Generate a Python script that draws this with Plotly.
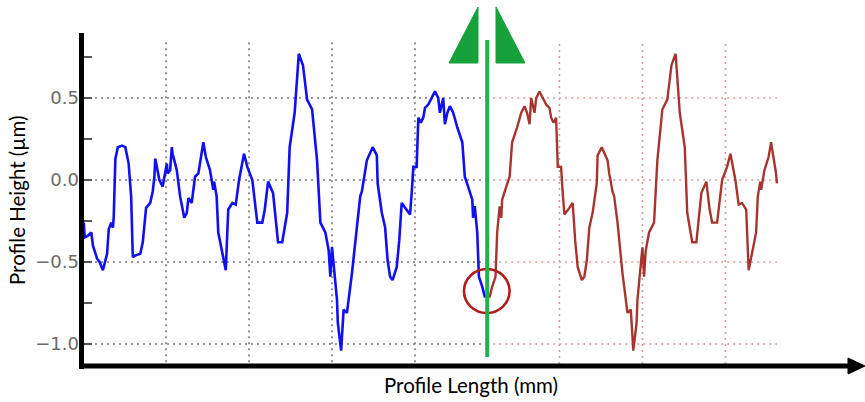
import plotly.graph_objects as go

# ---- data ----
blue_x = [0.01, 0.02, 0.06, 0.10, 0.12, 0.17, 0.20, 0.24, 0.29, 0.31, 0.34, 0.36, 0.37, 0.39, 0.42,
          0.47, 0.51, 0.55, 0.58, 0.60, 0.63, 0.69, 0.72, 0.76, 0.81, 0.84, 0.86, 0.87, 0.89, 0.92,
          0.96, 0.99, 1.01, 1.02, 1.05, 1.07, 1.08, 1.13, 1.17, 1.22, 1.25, 1.27, 1.31, 1.35, 1.39,
          1.45, 1.48, 1.53, 1.57, 1.58, 1.61, 1.63, 1.67, 1.72, 1.75, 1.80, 1.84, 1.88, 1.94, 1.98,
          2.04, 2.10, 2.16, 2.19, 2.23, 2.29, 2.35, 2.40, 2.46, 2.49, 2.55, 2.60, 2.65, 2.70, 2.76,
          2.82, 2.86, 2.92, 2.96, 2.98, 3.00, 3.02, 3.06, 3.07, 3.11, 3.14, 3.18, 3.24, 3.30, 3.34,
          3.36, 3.40, 3.42, 3.49, 3.54, 3.55, 3.60, 3.64, 3.67, 3.70, 3.73, 3.78, 3.81, 3.84, 3.88,
          3.94, 3.96, 3.98, 4.02, 4.04, 4.07, 4.10, 4.12, 4.16, 4.20, 4.24, 4.28, 4.30, 4.34, 4.36,
          4.39, 4.42, 4.46, 4.51, 4.57, 4.60, 4.64, 4.69, 4.70, 4.72, 4.75, 4.77, 4.81, 4.84, 4.87]
blue_y = [-0.26, -0.35, -0.34, -0.32, -0.40, -0.48, -0.50, -0.55, -0.45, -0.30, -0.26, -0.29, -0.23, 0.13, 0.20,
          0.21, 0.20, 0.10, -0.10, -0.47, -0.46, -0.45, -0.38, -0.17, -0.14, -0.07, 0.02, 0.13, 0.08, 0.00,
          -0.04, 0.04, 0.10, 0.04, 0.06, 0.20, 0.16, 0.06, -0.10, -0.23, -0.20, -0.11, -0.14, 0.02, 0.04,
          0.23, 0.14, 0.06, -0.06, -0.01, -0.10, -0.32, -0.43, -0.55, -0.18, -0.14, -0.15, 0.00, 0.16, 0.08,
          0.00, -0.26, -0.26, -0.18, -0.01, -0.08, -0.38, -0.38, -0.20, 0.20, 0.41, 0.77, 0.70, 0.49, 0.43,
          0.12, -0.26, -0.32, -0.43, -0.59, -0.41, -0.53, -0.73, -0.87, -1.04, -0.79, -0.81, -0.57, -0.26, -0.10,
          -0.07, 0.04, 0.12, 0.20, 0.15, -0.02, -0.20, -0.29, -0.49, -0.59, -0.61, -0.53, -0.37, -0.14, -0.17,
          -0.21, -0.08, 0.08, 0.08, 0.38, 0.35, 0.38, 0.44, 0.46, 0.50, 0.54, 0.50, 0.41, 0.50, 0.34,
          0.41, 0.45, 0.41, 0.32, 0.23, 0.02, -0.04, -0.12, -0.23, -0.16, -0.32, -0.59, -0.65, -0.71, -0.71]

brown_x = [4.87, 4.90, 4.93, 4.97, 4.99, 5.02, 5.04, 5.05, 5.10, 5.14, 5.17, 5.23, 5.28, 5.32, 5.35,
           5.38, 5.40, 5.44, 5.46, 5.50, 5.54, 5.58, 5.62, 5.64, 5.67, 5.70, 5.72, 5.76, 5.78, 5.80,
           5.86, 5.90, 5.93, 5.96, 6.01, 6.04, 6.07, 6.10, 6.14, 6.19, 6.20, 6.25, 6.32, 6.34, 6.38,
           6.40, 6.44, 6.50, 6.56, 6.60, 6.63, 6.67, 6.68, 6.72, 6.74, 6.76, 6.78, 6.82, 6.88, 6.92,
           6.98, 7.04, 7.09, 7.14, 7.19, 7.25, 7.28, 7.34, 7.39, 7.45, 7.51, 7.55, 7.58, 7.64, 7.70,
           7.76, 7.80, 7.86, 7.90, 7.94, 7.99, 8.02, 8.07, 8.11, 8.13, 8.16, 8.17, 8.21, 8.26, 8.29,
           8.35, 8.36]
brown_y = [-0.71, -0.71, -0.65, -0.59, -0.32, -0.16, -0.23, -0.12, -0.04, 0.02, 0.23, 0.32, 0.41, 0.45, 0.41,
           0.34, 0.50, 0.41, 0.50, 0.54, 0.50, 0.46, 0.44, 0.38, 0.35, 0.38, 0.08, 0.08, -0.08, -0.21,
           -0.17, -0.14, -0.37, -0.53, -0.61, -0.59, -0.49, -0.29, -0.20, -0.02, 0.15, 0.20, 0.12, 0.04, -0.07,
           -0.10, -0.26, -0.57, -0.81, -0.79, -1.04, -0.87, -0.73, -0.53, -0.41, -0.59, -0.43, -0.32, -0.26, 0.12,
           0.43, 0.49, 0.70, 0.77, 0.41, 0.20, -0.20, -0.38, -0.38, -0.08, -0.01, -0.18, -0.26, -0.26, 0.00,
           0.08, 0.16, 0.00, -0.15, -0.14, -0.18, -0.55, -0.43, -0.32, -0.10, -0.01, -0.06, 0.06, 0.14, 0.23,
           0.04, -0.02]

y_tick_vals = [-1.0, -0.75, -0.5, -0.25, 0.0, 0.25, 0.5, 0.75]
y_tick_text = ["\u22121.0", "", "\u22120.5", "", "0.0", "", "0.5", ""]
grid_x_left = [1, 2, 3, 4]
grid_x_right = [5.74, 6.74, 7.74]
grid_y = [0.5, 0.0, -0.5, -1.0]
split_x = 4.87
x_title = "Profile Length (mm)"
y_title = "Profile Height (\u00b5m)"

W, H = 865, 402
L, R, T, B = 83, 0, 33, 35
plot_w = W - L - R
plot_h = H - T - B

def px_x(p):
    return (p - L) / plot_w

def px_y(p):
    return (H - B - p) / plot_h

fig = go.Figure()
fig.add_trace(go.Scatter(x=blue_x, y=blue_y, mode="lines",
                         line=dict(color="#1010f0", width=2.6), showlegend=False))
fig.add_trace(go.Scatter(x=brown_x, y=brown_y, mode="lines",
                         line=dict(color="#a8342e", width=2.4), showlegend=False))

shapes = []
gray = "#7a7a7a"
pink = "#d49a9a"
dash = "2px,4px"
for gx in grid_x_left:
    shapes.append(dict(type="line", xref="x", yref="y", x0=gx, x1=gx, y0=0.84, y1=-1.14,
                       line=dict(color=gray, width=1.6, dash=dash), layer="below"))
for gx in grid_x_right:
    shapes.append(dict(type="line", xref="x", yref="y", x0=gx, x1=gx, y0=0.83, y1=-1.14,
                       line=dict(color=pink, width=1.6, dash=dash), layer="below"))
for gy in grid_y:
    shapes.append(dict(type="line", xref="x", yref="y", x0=0, x1=split_x, y0=gy, y1=gy,
                       line=dict(color=gray, width=1.6, dash=dash), layer="below"))
    shapes.append(dict(type="line", xref="x", yref="y", x0=split_x, x1=8.36, y0=gy, y1=gy,
                       line=dict(color=pink, width=1.6, dash=dash), layer="below"))

# axis lines
shapes.append(dict(type="line", xref="paper", yref="paper", x0=px_x(81.5), x1=px_x(81.5),
                   y0=px_y(369), y1=1, line=dict(color="black", width=5)))
shapes.append(dict(type="line", xref="paper", yref="paper", x0=px_x(79), x1=px_x(852),
                   y0=px_y(366), y1=px_y(366), line=dict(color="black", width=5)))
shapes.append(dict(type="path", xref="paper", yref="paper",
                   path=f"M {px_x(848)},{px_y(358)} L {px_x(865)},{px_y(366)} L {px_x(848)},{px_y(374)} Z",
                   fillcolor="black", line=dict(color="black", width=1)))

# red circle
shapes.append(dict(type="circle", xref="x", yref="y", x0=4.59, x1=5.14, y0=-0.811, y1=-0.543,
                   line=dict(color="#b01c1c", width=2.6)))
# green line
shapes.append(dict(type="line", xref="x", yref="y", x0=split_x, x1=split_x, y0=0.854, y1=-1.079,
                   line=dict(color="#22b24a", width=4)))
# green triangles
green = "#16a13c"
shapes.append(dict(type="path", xref="paper", yref="paper",
                   path=f"M {px_x(449)},{px_y(63)} L {px_x(478)},{px_y(7)} L {px_x(478)},{px_y(63)} Z",
                   fillcolor=green, line=dict(color=green, width=1)))
shapes.append(dict(type="path", xref="paper", yref="paper",
                   path=f"M {px_x(496)},{px_y(7)} L {px_x(496)},{px_y(63)} L {px_x(525)},{px_y(63)} Z",
                   fillcolor=green, line=dict(color=green, width=1)))

annotations = [
    dict(text=x_title, xref="paper", yref="paper", x=px_x(471), y=px_y(385),
         showarrow=False, xanchor="center", yanchor="middle",
         font=dict(family="Lato", size=20.5, color="black")),
    dict(text=y_title, xref="paper", yref="paper", x=px_x(17), y=px_y(200),
         showarrow=False, xanchor="center", yanchor="middle", textangle=-90,
         font=dict(family="Lato", size=20.5, color="black")),
]

fig.update_layout(
    width=W, height=H,
    margin=dict(l=L, r=R, t=T, b=B, pad=0),
    paper_bgcolor="white", plot_bgcolor="white",
    shapes=shapes, annotations=annotations,
    showlegend=False,
    xaxis=dict(range=[0, plot_w / 83.0], showgrid=False, zeroline=False, showline=False,
               showticklabels=False, ticks=""),
    yaxis=dict(range=[(180 - (H - B)) / 164.0, (180 - T) / 164.0], showgrid=False, zeroline=False,
               showline=False, tickmode="array", tickvals=y_tick_vals, ticktext=y_tick_text,
               ticks="inside", ticklen=9, tickwidth=1.5, tickcolor="#555555",
               ticklabelstandoff=3,
               tickfont=dict(family="DejaVu Sans", size=18, color="#6a6a6a")),
)

fig.write_html("out.html", config={"displayModeBar": False},
               post_script="document.body.style.margin='0';")
